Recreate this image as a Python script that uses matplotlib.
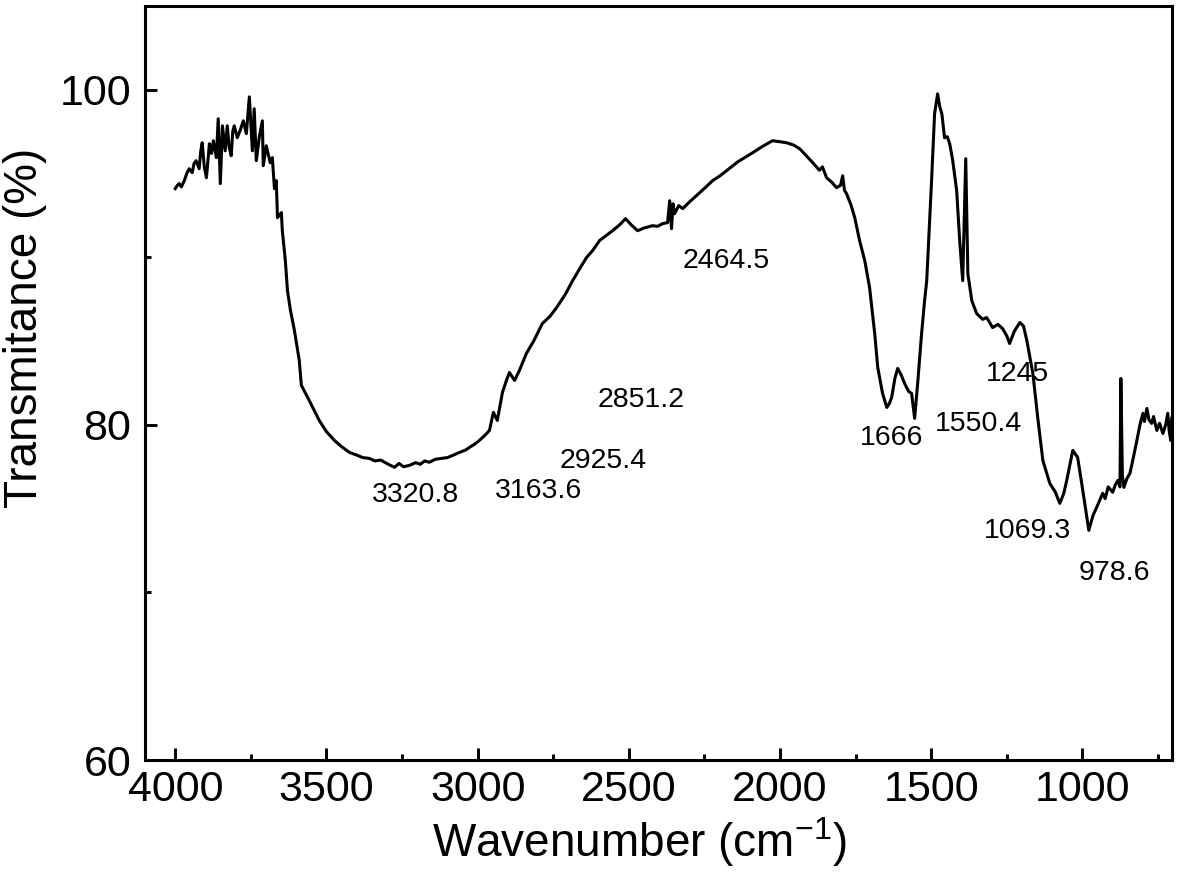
import numpy as np
import matplotlib
matplotlib.use("Agg")
import matplotlib.pyplot as plt

plt.rcParams['font.family'] = ['Liberation Sans', 'DejaVu Sans']
plt.rcParams['mathtext.fontset'] = 'custom'
plt.rcParams['mathtext.rm'] = 'Liberation Sans'
plt.rcParams['mathtext.default'] = 'regular'

# FTIR spectrum: wavenumber (cm-1) and transmittance (%)
wavenumber = [
    4000, 3993, 3987, 3980, 3970, 3962, 3954, 3944, 3938, 3931, 3921, 3916, 3911, 3904,
    3897, 3887, 3880, 3874, 3864, 3858, 3851, 3844, 3835, 3828, 3822, 3815, 3810, 3805,
    3795, 3785, 3775, 3765, 3755, 3745, 3739, 3732, 3722, 3712, 3709, 3699, 3686, 3679,
    3672, 3666, 3662, 3649, 3646, 3636, 3629, 3619, 3606, 3590, 3583, 3557, 3524, 3500,
    3474, 3450, 3424, 3400, 3380, 3358, 3340, 3320, 3308, 3290, 3275, 3260, 3245, 3225,
    3205, 3190, 3175, 3160, 3140, 3120, 3100, 3080, 3060, 3040, 3027, 3010, 2994, 2975,
    2961, 2948, 2935, 2918, 2905, 2895, 2878, 2862, 2839, 2815, 2786, 2760, 2739, 2710,
    2686, 2660, 2640, 2620, 2597, 2575, 2554, 2530, 2511, 2490, 2471, 2450, 2422, 2405,
    2389, 2372, 2365, 2359, 2354, 2349, 2335, 2322, 2300, 2266, 2245, 2223, 2200, 2177,
    2140, 2091, 2060, 2025, 2000, 1978, 1955, 1935, 1915, 1892, 1870, 1860, 1846, 1830,
    1813, 1800, 1793, 1787, 1780, 1765, 1753, 1737, 1720, 1704, 1687, 1677, 1661, 1647,
    1638, 1631, 1620, 1611, 1600, 1588, 1575, 1565, 1555, 1545, 1532, 1522, 1515, 1499,
    1489, 1479, 1472, 1465, 1456, 1447, 1439, 1429, 1416, 1406, 1396, 1386, 1379, 1366,
    1350, 1330, 1317, 1297, 1280, 1264, 1250, 1241, 1225, 1207, 1195, 1184, 1164, 1148,
    1131, 1118, 1108, 1090, 1075, 1062, 1052, 1042, 1032, 1016, 999, 979, 965, 953, 943,
    933, 925, 915, 900, 892, 883, 876, 873, 868, 863, 853, 843, 830, 820, 810, 800, 795,
    787, 780, 771, 765, 754, 745, 734, 725, 718, 713, 708, 705,
]
transmittance = [
    94.10, 94.30, 94.40, 94.20, 94.58, 95.00, 95.29, 95.05, 95.60, 95.77, 95.29, 96.30, 96.84, 95.40,
    94.75, 96.78, 96.20, 96.96, 95.95, 98.27, 94.40, 97.85, 96.36, 97.85, 96.60, 96.07, 97.50, 97.85,
    97.14, 97.60, 98.15, 97.38, 99.58, 96.36, 98.87, 95.77, 97.20, 98.15, 95.47, 96.66, 95.65, 95.95,
    94.10, 94.58, 92.37, 92.67, 91.59, 89.81, 88.02, 86.83, 85.64, 83.85, 82.36, 81.46, 80.27, 79.60,
    79.08, 78.70, 78.36, 78.20, 78.05, 78.00, 77.85, 77.90, 77.77, 77.60, 77.47, 77.70, 77.50, 77.59,
    77.75, 77.65, 77.85, 77.77, 77.95, 78.00, 78.05, 78.20, 78.36, 78.50, 78.66, 78.85, 79.08, 79.40,
    79.67, 80.75, 80.27, 81.94, 82.65, 83.13, 82.65, 83.25, 84.26, 85.00, 86.05, 86.50, 87.00, 87.80,
    88.61, 89.40, 89.99, 90.40, 91.00, 91.30, 91.59, 91.95, 92.31, 91.90, 91.59, 91.75, 91.89, 91.85,
    92.01, 92.07, 93.38, 91.71, 93.20, 92.60, 93.09, 92.91, 93.30, 93.86, 94.20, 94.58, 94.85, 95.17,
    95.70, 96.24, 96.60, 96.96, 96.90, 96.84, 96.70, 96.48, 96.10, 95.65, 95.20, 95.40, 94.75, 94.50,
    94.16, 94.30, 94.87, 94.00, 93.80, 93.10, 92.37, 91.00, 89.81, 88.20, 85.45, 83.43, 81.88, 81.04,
    81.30, 81.64, 82.80, 83.37, 83.00, 82.47, 82.00, 81.88, 80.39, 82.47, 85.45, 87.42, 88.61, 94.58,
    98.57, 99.76, 99.00, 98.57, 97.14, 97.20, 96.78, 95.77, 93.98, 91.00, 88.61, 95.89, 89.03, 87.42,
    86.65, 86.30, 86.41, 85.81, 86.00, 85.75, 85.30, 84.86, 85.60, 86.11, 85.90, 85.04, 83.07, 80.45,
    77.88, 77.10, 76.51, 76.00, 75.32, 75.90, 76.69, 77.60, 78.48, 78.06, 76.10, 73.71, 74.60, 75.08, 75.50,
    75.92, 75.60, 76.30, 75.98, 76.40, 76.69, 76.30, 82.77, 77.00, 76.27, 76.80, 77.11, 78.20, 79.08, 80.00, 80.69, 80.20,
    80.98, 80.30, 80.09, 80.50, 79.67, 80.10, 79.49, 80.00, 80.69, 79.60, 79.08, 80.40,
]

# peak labels: text, x, y (baseline)
peak_labels = ['3320.8', '3163.6', '2925.4', '2851.2', '2464.5',
               '1666', '1550.4', '1245', '1069.3', '978.6']
label_x = [3206, 2799, 2584, 2461, 2177, 1631, 1343, 1214, 1181, 896]
label_y = [75.38, 75.62, 77.41, 81.04, 89.39, 78.78, 79.61, 82.65, 73.23, 70.73]

fig = plt.figure(figsize=(11.81, 8.86), dpi=100)
ax = fig.add_axes([0.1228, 0.1422, 0.8693, 0.851])

ax.plot(wavenumber, transmittance, color='black', lw=2.2, solid_joinstyle='round')

for txt, x, y in zip(peak_labels, label_x, label_y):
    ax.text(x, y, txt, fontsize=20.5, ha='center', va='baseline')

ax.set_xlim(4100, 705)
ax.set_ylim(60, 105)
ax.set_xticks([4000, 3500, 3000, 2500, 2000, 1500, 1000])
ax.set_xticks(np.arange(750, 4000, 500), minor=True)
ax.set_yticks([60, 80, 100])
ax.set_yticks([70, 90], minor=True)

for sp in ax.spines.values():
    sp.set_linewidth(2.2)
ax.tick_params(which='both', direction='in', top=False, right=False, width=2.1)
ax.tick_params(which='major', length=8.6, labelsize=31)
ax.tick_params(axis='x', which='major', pad=7)
ax.tick_params(axis='y', which='major', pad=10)
ax.tick_params(which='minor', length=4.3)

ax.set_xlabel('Wavenumber (cm$^{-1}$)', fontsize=33)
ax.set_ylabel('Transmitance (%)', fontsize=33)
ax.xaxis.set_label_coords(0.481, -0.073)
ax.yaxis.set_label_coords(-0.095, 0.573)

fig.savefig('out.png', dpi=100)
